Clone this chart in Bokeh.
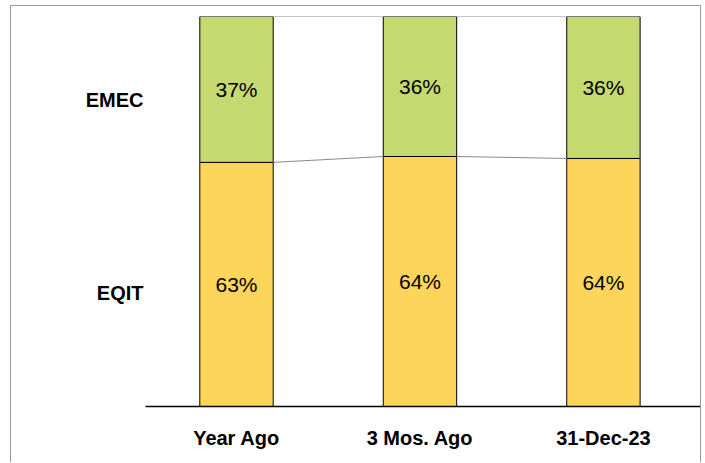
from bokeh.plotting import figure
from bokeh.models import ColumnDataSource, FixedTicker, Range1d
from bokeh.core.properties import value
from bokeh.embed import file_html
from bokeh.resources import INLINE

categories = ["Year Ago", "3 Mos. Ago", "31-Dec-23"]
eqit = [62.6, 64.1, 63.6]
emec = [37.4, 35.9, 36.4]
eqit_labels = ["63%", "64%", "64%"]
emec_labels = ["37%", "36%", "36%"]
series_names = ["EQIT", "EMEC"]

FONT = "'Liberation Sans Narrow', 'Arial Narrow', 'Liberation Sans', Arial, sans-serif"
GREEN = "#C4D96F"
YELLOW = "#FDD55A"

xs = list(range(len(categories)))
src = ColumnDataSource(dict(
    x=xs,
    eqit=eqit,
    emec=emec,
    top=[a + b for a, b in zip(eqit, emec)],
    eqit_mid=[a / 2 for a in eqit],
    emec_mid=[a + b / 2 for a, b in zip(eqit, emec)],
    eqit_lab=eqit_labels,
    emec_lab=emec_labels,
))

p = figure(width=691, height=457, output_backend="svg", toolbar_location=None,
           x_range=Range1d(-0.496, 2.540), y_range=Range1d(0, 100),
           min_border_left=134, min_border_right=0, min_border_top=10, min_border_bottom=57)
p.styles = {"margin-left": "10px", "margin-top": "5px",
            "border-left": "1px solid #9a9a9a", "border-top": "1px solid #9a9a9a",
            "border-right": "1px solid #9a9a9a"}
p.outline_line_color = None
p.grid.visible = False
p.background_fill_color = "white"
p.border_fill_color = "white"

W = 0.4
p.vbar(x="x", bottom=0, top="eqit", width=W, source=src, fill_color=YELLOW,
       line_color="black", line_width=1)
p.vbar(x="x", bottom="eqit", top="top", width=W, source=src, fill_color=GREEN,
       line_color="black", line_width=1)

# connector lines between bars
x0 = [i + W / 2 for i in xs[:-1]]
x1 = [i + 1 - W / 2 for i in xs[:-1]]
tops = [a + b for a, b in zip(eqit, emec)]
p.segment(x0=x0, x1=x1, y0=eqit[:-1], y1=eqit[1:], line_color="#8a8a8a", line_width=1)
p.segment(x0=x0, x1=x1, y0=tops[:-1], y1=tops[1:], line_color="#8a8a8a", line_width=1)

p.text(x="x", y="eqit_mid", text="eqit_lab", source=src, text_align="center",
       text_baseline="middle", text_font=value(FONT), text_font_size="21px", text_color="black")
p.text(x="x", y="emec_mid", text="emec_lab", source=src, text_align="center",
       text_baseline="middle", text_font=value(FONT), text_font_size="21px", text_color="black")

# x axis
p.xaxis.ticker = FixedTicker(ticks=xs)
p.xaxis.major_label_overrides = {i: c for i, c in zip(xs, categories)}
p.xaxis.axis_line_color = "black"
p.xaxis.axis_line_width = 1.5
p.xaxis.major_tick_line_color = None
p.xaxis.minor_tick_line_color = None
p.xaxis.major_label_text_font = FONT
p.xaxis.major_label_text_font_style = "bold"
p.xaxis.major_label_text_font_size = "20px"
p.xaxis.major_label_text_color = "black"
p.xaxis.major_label_standoff = 14

# y axis with series names
label_pos = [29.2, 78.7]
p.yaxis.ticker = FixedTicker(ticks=label_pos)
p.yaxis.major_label_overrides = {label_pos[0]: series_names[0], label_pos[1]: series_names[1]}
p.yaxis.axis_line_color = None
p.yaxis.major_tick_line_color = None
p.yaxis.minor_tick_line_color = None
p.yaxis.major_label_text_font = FONT
p.yaxis.major_label_text_font_style = "bold"
p.yaxis.major_label_text_font_size = "20px"
p.yaxis.major_label_text_color = "black"
p.yaxis.major_label_standoff = -4
p.yaxis.major_label_orientation = "horizontal"

open("out.html", "w").write(file_html(p, INLINE))
